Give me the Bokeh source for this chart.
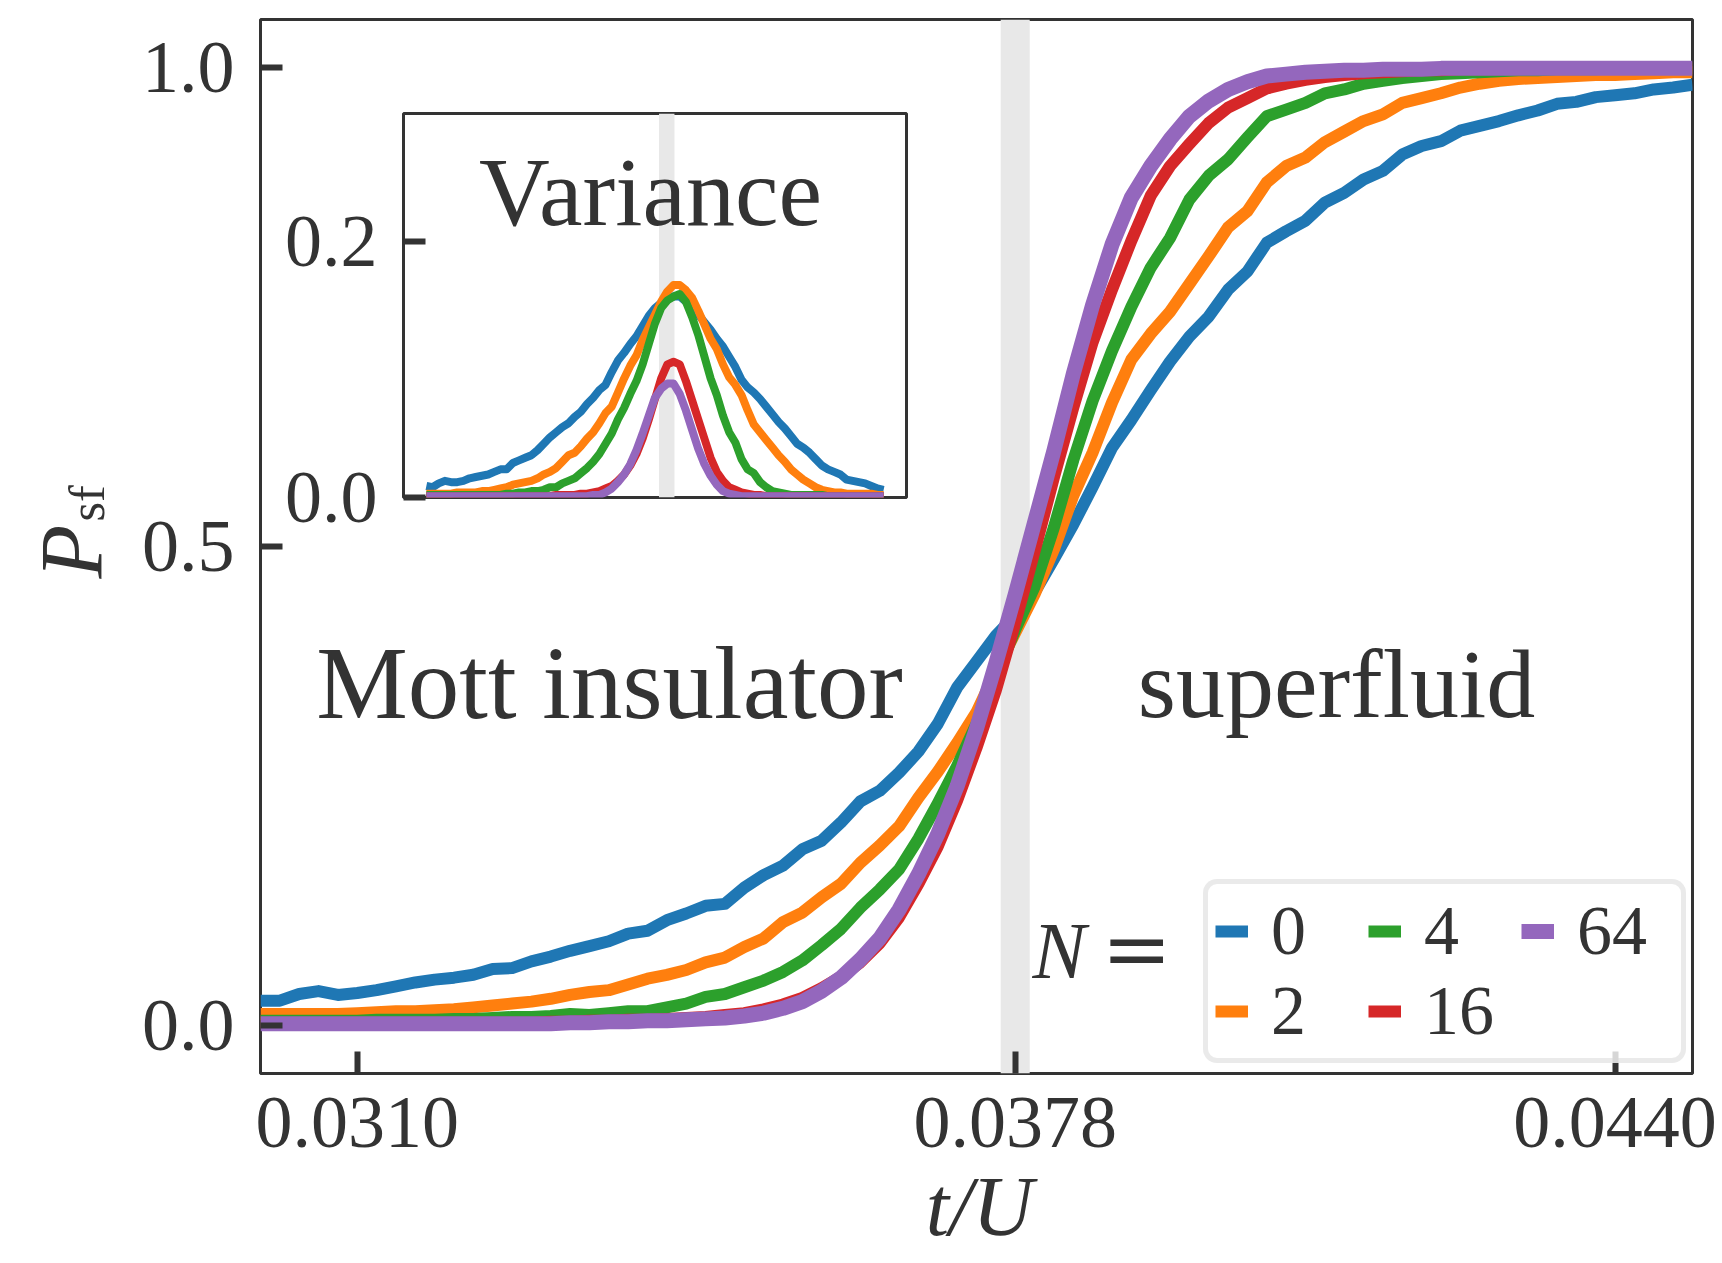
import math
from bokeh.plotting import figure
from bokeh.models import (Range1d, FixedTicker, NumeralTickFormatter, BoxAnnotation,
                          Label, Legend, LegendItem)
from bokeh.layouts import column
from bokeh.embed import file_html
from bokeh.resources import INLINE

# ---------------- data ----------------
T_OVER_U = [
    0.0300, 0.0302, 0.0304, 0.0306, 0.0308, 0.0310, 0.0312, 0.0314, 0.0316, 0.0318,
    0.0320, 0.0322, 0.0324, 0.0326, 0.0328, 0.0330, 0.0332, 0.0334, 0.0336, 0.0338,
    0.0340, 0.0342, 0.0344, 0.0346, 0.0348, 0.0350, 0.0352, 0.0354, 0.0356, 0.0358,
    0.0360, 0.0362, 0.0364, 0.0366, 0.0368, 0.0370, 0.0372, 0.0374, 0.0376, 0.0378,
    0.0380, 0.0382, 0.0384, 0.0386, 0.0388, 0.0390, 0.0392, 0.0394, 0.0396, 0.0398,
    0.0400, 0.0402, 0.0404, 0.0406, 0.0408, 0.0410, 0.0412, 0.0414, 0.0416, 0.0418,
    0.0420, 0.0422, 0.0424, 0.0426, 0.0428, 0.0430, 0.0432, 0.0434, 0.0436, 0.0438,
    0.0440, 0.0442, 0.0444, 0.0446, 0.0448,
]

P_SF_N0 = [
    0.026, 0.026, 0.033, 0.036, 0.032, 0.034, 0.037, 0.041, 0.045, 0.048,
    0.050, 0.053, 0.059, 0.060, 0.067, 0.072, 0.078, 0.083, 0.088, 0.096,
    0.099, 0.110, 0.117, 0.125, 0.127, 0.144, 0.157, 0.167, 0.184, 0.193,
    0.212, 0.234, 0.245, 0.264, 0.286, 0.315, 0.353, 0.380, 0.407, 0.428,
    0.452, 0.487, 0.523, 0.562, 0.603, 0.632, 0.663, 0.693, 0.719, 0.740,
    0.768, 0.787, 0.817, 0.829, 0.840, 0.859, 0.869, 0.883, 0.892, 0.909,
    0.918, 0.923, 0.934, 0.939, 0.944, 0.950, 0.955, 0.962, 0.964, 0.969,
    0.971, 0.973, 0.977, 0.979, 0.982,
]
P_SF_N2 = [
    0.012, 0.012, 0.012, 0.012, 0.012, 0.013, 0.014, 0.015, 0.015, 0.016,
    0.017, 0.019, 0.021, 0.023, 0.025, 0.028, 0.032, 0.035, 0.037, 0.043,
    0.049, 0.053, 0.058, 0.066, 0.071, 0.082, 0.091, 0.108, 0.118, 0.134,
    0.148, 0.170, 0.188, 0.208, 0.238, 0.265, 0.295, 0.327, 0.370, 0.410,
    0.450, 0.497, 0.553, 0.598, 0.650, 0.695, 0.722, 0.745, 0.774, 0.803,
    0.833, 0.850, 0.880, 0.897, 0.906, 0.922, 0.933, 0.944, 0.951, 0.963,
    0.968, 0.973, 0.979, 0.983, 0.986, 0.988, 0.989, 0.990, 0.991, 0.992,
    0.992, 0.993, 0.994, 0.995, 0.995,
]
P_SF_N4 = [
    0.005, 0.005, 0.005, 0.005, 0.005, 0.005, 0.006, 0.006, 0.006, 0.006,
    0.007, 0.007, 0.008, 0.009, 0.009, 0.010, 0.012, 0.011, 0.013, 0.015,
    0.015, 0.019, 0.023, 0.030, 0.033, 0.040, 0.047, 0.056, 0.068, 0.084,
    0.101, 0.123, 0.142, 0.163, 0.195, 0.232, 0.271, 0.315, 0.365, 0.413,
    0.458, 0.520, 0.590, 0.652, 0.704, 0.750, 0.791, 0.822, 0.862, 0.887,
    0.904, 0.927, 0.949, 0.956, 0.963, 0.973, 0.977, 0.983, 0.986, 0.989,
    0.991, 0.993, 0.994, 0.995, 0.996, 0.997, 0.997, 0.998, 0.998, 0.998,
    0.999, 0.999, 0.999, 0.999, 0.999,
]
P_SF_N16 = [
    0.003, 0.003, 0.003, 0.003, 0.003, 0.003, 0.003, 0.003, 0.003, 0.003,
    0.003, 0.003, 0.003, 0.003, 0.003, 0.004, 0.004, 0.005, 0.005, 0.006,
    0.006, 0.007, 0.008, 0.009, 0.011, 0.013, 0.017, 0.022, 0.029, 0.039,
    0.051, 0.066, 0.086, 0.113, 0.148, 0.187, 0.235, 0.290, 0.350, 0.420,
    0.495, 0.572, 0.645, 0.713, 0.768, 0.819, 0.866, 0.897, 0.920, 0.942,
    0.958, 0.968, 0.978, 0.983, 0.987, 0.990, 0.992, 0.994, 0.995, 0.996,
    0.997, 0.997, 0.998, 0.998, 0.998, 0.999, 0.999, 0.999, 0.999, 0.999,
    0.999, 0.999, 0.999, 0.999, 0.999,
]
P_SF_N64 = [
    0.002, 0.002, 0.002, 0.002, 0.002, 0.002, 0.002, 0.002, 0.002, 0.002,
    0.002, 0.002, 0.002, 0.002, 0.002, 0.002, 0.003, 0.003, 0.004, 0.004,
    0.005, 0.005, 0.006, 0.007, 0.008, 0.010, 0.013, 0.018, 0.025, 0.036,
    0.050, 0.069, 0.091, 0.121, 0.158, 0.200, 0.250, 0.310, 0.378, 0.450,
    0.525, 0.600, 0.680, 0.752, 0.815, 0.864, 0.897, 0.925, 0.949, 0.965,
    0.977, 0.985, 0.991, 0.993, 0.995, 0.996, 0.997, 0.997, 0.998, 0.998,
    0.998, 0.999, 0.999, 0.999, 0.999, 0.999, 0.999, 0.999, 0.999, 0.999,
    0.999, 0.999, 0.999, 0.999, 0.999,
]

VAR_N0 = [
    0.009, 0.008, 0.011, 0.013, 0.012, 0.012, 0.013, 0.015, 0.016, 0.017,
    0.018, 0.020, 0.022, 0.022, 0.027, 0.029, 0.031, 0.033, 0.037, 0.042,
    0.047, 0.051, 0.055, 0.058, 0.063, 0.067, 0.073, 0.078, 0.084, 0.088,
    0.098, 0.107, 0.113, 0.120, 0.126, 0.134, 0.142, 0.148, 0.152, 0.155,
    0.157, 0.157, 0.153, 0.148, 0.143, 0.137, 0.131, 0.124, 0.118, 0.110,
    0.102, 0.092, 0.086, 0.082, 0.077, 0.071, 0.065, 0.059, 0.054, 0.048,
    0.042, 0.039, 0.035, 0.030, 0.025, 0.022, 0.020, 0.018, 0.014, 0.013,
    0.012, 0.011, 0.009, 0.007, 0.006,
]
VAR_N2 = [
    0.003, 0.003, 0.003, 0.003, 0.003, 0.004, 0.004, 0.004, 0.004, 0.005,
    0.005, 0.006, 0.007, 0.008, 0.010, 0.011, 0.012, 0.013, 0.015, 0.018,
    0.020, 0.023, 0.028, 0.033, 0.035, 0.040, 0.046, 0.051, 0.058, 0.066,
    0.071, 0.082, 0.093, 0.103, 0.111, 0.123, 0.133, 0.143, 0.153, 0.161,
    0.166, 0.166, 0.162, 0.156, 0.146, 0.135, 0.124, 0.116, 0.104, 0.094,
    0.088, 0.080, 0.068, 0.057, 0.051, 0.045, 0.039, 0.033, 0.028, 0.022,
    0.018, 0.014, 0.011, 0.008, 0.006, 0.005, 0.004, 0.004, 0.003, 0.003,
    0.003, 0.003, 0.003, 0.002, 0.002,
]
VAR_N4 = [
    0.002, 0.002, 0.002, 0.002, 0.002, 0.002, 0.002, 0.002, 0.002, 0.002,
    0.002, 0.002, 0.002, 0.003, 0.003, 0.004, 0.004, 0.005, 0.005, 0.006,
    0.008, 0.008, 0.011, 0.013, 0.015, 0.019, 0.023, 0.028, 0.034, 0.042,
    0.050, 0.061, 0.070, 0.081, 0.091, 0.104, 0.120, 0.136, 0.148, 0.154,
    0.157, 0.159, 0.153, 0.141, 0.127, 0.110, 0.093, 0.080, 0.064, 0.051,
    0.043, 0.030, 0.022, 0.019, 0.012, 0.008, 0.005, 0.004, 0.003, 0.002,
    0.002, 0.002, 0.002, 0.002, 0.002, 0.001, 0.001, 0.001, 0.001, 0.001,
    0.001, 0.001, 0.001, 0.001, 0.001,
]
VAR_N16 = [
    0.001, 0.001, 0.001, 0.001, 0.001, 0.001, 0.001, 0.001, 0.001, 0.001,
    0.001, 0.001, 0.001, 0.001, 0.001, 0.001, 0.001, 0.001, 0.001, 0.001,
    0.001, 0.002, 0.002, 0.002, 0.002, 0.003, 0.003, 0.004, 0.005, 0.007,
    0.009, 0.013, 0.018, 0.025, 0.034, 0.046, 0.061, 0.077, 0.093, 0.104,
    0.106, 0.104, 0.091, 0.076, 0.061, 0.046, 0.031, 0.020, 0.013, 0.008,
    0.006, 0.004, 0.003, 0.002, 0.002, 0.001, 0.001, 0.001, 0.001, 0.001,
    0.001, 0.001, 0.001, 0.001, 0.001, 0.001, 0.001, 0.001, 0.001, 0.001,
    0.001, 0.001, 0.001, 0.001, 0.001,
]
VAR_N64 = [
    0.001, 0.001, 0.001, 0.001, 0.001, 0.001, 0.001, 0.001, 0.001, 0.001,
    0.001, 0.001, 0.001, 0.001, 0.001, 0.001, 0.001, 0.001, 0.001, 0.001,
    0.001, 0.001, 0.001, 0.001, 0.001, 0.001, 0.001, 0.002, 0.002, 0.004,
    0.007, 0.012, 0.018, 0.026, 0.037, 0.050, 0.064, 0.078, 0.085, 0.089,
    0.089, 0.081, 0.068, 0.053, 0.038, 0.026, 0.017, 0.010, 0.005, 0.003,
    0.002, 0.001, 0.001, 0.001, 0.001, 0.001, 0.001, 0.001, 0.001, 0.001,
    0.001, 0.001, 0.001, 0.001, 0.001, 0.001, 0.001, 0.001, 0.001, 0.001,
    0.001, 0.001, 0.001, 0.001, 0.001,
]

N_LABELS = ["0", "2", "4", "16", "64"]
P_SERIES = [P_SF_N0, P_SF_N2, P_SF_N4, P_SF_N16, P_SF_N64]
VAR_SERIES = [VAR_N0, VAR_N2, VAR_N4, VAR_N16, VAR_N64]

X_TICKS = [0.0310, 0.0378, 0.0440]
Y_TICKS = [0.0, 0.5, 1.0]
INSET_Y_TICKS = [0.0, 0.2]
BAND_MAIN = (0.03765, 0.03795)
BAND_INSET = (0.03753, 0.03803)

# ---------------- style ----------------
COLORS = ["#1f77b4", "#ff7f0e", "#2ca02c", "#d62728", "#9467bd"]
MAIN_WIDTHS = [12, 12, 12, 12, 15]
FONT = "Liberation Serif"
TXT = "#333333"
FRAME = "#333333"
MID = 0.3375          # baseline -> text middle, in em

W, H = 1722, 1263
FL, FR, FT, FB = 260, 1692, 19, 1073   # main frame edges (canvas px)
BL, BR = FL, W - FR                    # shared left / right borders

x_lo, x_hi = T_OVER_U[0], T_OVER_U[-1]
p = figure(width=W, height=H, title=None,
           x_range=Range1d(x_lo, x_hi), y_range=Range1d(-0.05, 1.05),
           output_backend="svg", toolbar_location=None,
           min_border_left=BL, min_border_right=BR,
           min_border_top=FT, min_border_bottom=H - FB)
p.grid.visible = False
p.outline_line_color = FRAME
p.outline_line_width = 3
p.background_fill_color = "white"
p.border_fill_color = "white"


def style_axis(ax, standoff):
    ax.axis_line_color = None
    ax.major_tick_in = 22
    ax.major_tick_out = 0
    ax.major_tick_line_width = 6
    ax.major_tick_line_color = FRAME
    ax.minor_tick_line_color = None
    ax.major_label_text_font = FONT
    ax.major_label_text_font_size = "74px"
    ax.major_label_text_color = TXT
    ax.major_label_standoff = standoff


style_axis(p.xaxis[0], 24)
style_axis(p.yaxis[0], 26)
p.xaxis.ticker = FixedTicker(ticks=X_TICKS)
p.xaxis.formatter = NumeralTickFormatter(format="0.0000")
p.yaxis.ticker = FixedTicker(ticks=Y_TICKS)
p.yaxis.formatter = NumeralTickFormatter(format="0.0")

p.add_layout(BoxAnnotation(left=BAND_MAIN[0], right=BAND_MAIN[1],
                           fill_color="#e8e8e8", fill_alpha=1.0,
                           line_color=None, level="underlay"))

renderers = []
for ys, c, lw in zip(P_SERIES, COLORS, MAIN_WIDTHS):
    r = p.line(T_OVER_U, ys, line_color=c, line_width=lw, line_join="round")
    renderers.append(r)

legend = Legend(items=[LegendItem(label=lab, renderers=[r])
                       for lab, r in zip(N_LABELS, renderers)],
                location=(1203 - FL, FB - 1063), orientation="vertical", nrows=2,
                glyph_width=33, glyph_height=30, label_standoff=23,
                label_width=97, spacing=0, padding=7, margin=0,
                border_line_color="#d6d6d6", border_line_width=5,
                background_fill_color="white", background_fill_alpha=0.8,
                label_text_font=FONT, label_text_font_size="70px",
                label_text_color=TXT)
if "border_radius" in Legend.properties():
    legend.border_radius = 14
p.add_layout(legend)


def add_text(fig, bottom, left, x, y_base, text, size, style="normal", font=FONT,
             align="center", angle=0.0):
    """x, y_base: canvas px of the text anchor / baseline; bottom, left: frame edges."""
    if angle == 0.0:
        xs, ys = x, y_base - MID * size
    else:   # rotated 90 deg: baseline is a vertical line at x
        xs, ys = x - MID * size, y_base
    fig.add_layout(Label(x=xs - left, y=bottom - ys, x_units="screen", y_units="screen",
                         text=text, text_font=font, text_font_size=f"{size}px",
                         text_font_style=style, text_color=TXT,
                         text_align=align, text_baseline="middle",
                         angle=angle))


add_text(p, FB, FL, 609, 717, "Mott insulator", 103)
add_text(p, FB, FL, 1336, 717, "superfluid", 98)
add_text(p, FB, FL, 1032, 977, "N", 80, style="italic", align="left")
add_text(p, FB, FL, 1101, 977, "=", 84, font="DejaVu Serif", align="left")

# ---------------- inset ----------------
IL, IR, IT, IB = 403, 906, 113, 497      # inset frame (canvas px)
I_BT, I_BB = 8, 60
span = x_hi - x_lo
ins = figure(width=BL + (IR - IL) + BR, height=I_BT + (IB - IT) + I_BB,
             title=None,
             x_range=Range1d(x_lo - 0.05 * span, x_hi + 0.05 * span),
             y_range=Range1d(0.0, 0.3),
             output_backend="svg", toolbar_location=None,
             min_border_left=BL, min_border_right=BR,
             min_border_top=I_BT, min_border_bottom=I_BB,
             styles={"position": "absolute", "left": f"{IL - BL}px",
                     "top": f"{IT - I_BT}px"})
ins.grid.visible = False
ins.outline_line_color = FRAME
ins.outline_line_width = 3
ins.background_fill_color = "white"
ins.border_fill_color = None
ins.xaxis.visible = False
style_axis(ins.yaxis[0], 26)
ins.yaxis.ticker = FixedTicker(ticks=INSET_Y_TICKS)
ins.yaxis.formatter = NumeralTickFormatter(format="0.0")

ins.add_layout(BoxAnnotation(left=BAND_INSET[0], right=BAND_INSET[1],
                             fill_color="#e8e8e8", fill_alpha=1.0,
                             line_color=None, level="underlay"))
for ys, c in zip(VAR_SERIES, COLORS):
    ins.line(T_OVER_U, ys, line_color=c, line_width=8, line_join="round")

add_text(ins, IB, IL, 650, 225, "Variance", 98)

# ---------------- transparent layer for the axis titles ----------------
OVW = 1250                               # frame covers page x 0..OVW, y 0..H
ov = figure(width=BL + OVW + BR, height=H, title=None,
            x_range=Range1d(0, 1), y_range=Range1d(0, 1),
            x_axis_location=None, y_axis_location=None,
            output_backend="svg", toolbar_location=None,
            min_border_left=BL, min_border_right=BR,
            min_border_top=0, min_border_bottom=0,
            outline_line_color=None, background_fill_color=None,
            border_fill_color=None,
            styles={"position": "absolute", "left": f"{-BL}px", "top": "0px"})
ov.grid.visible = False
add_text(ov, H, 0, 979, 1234, "t/U", 84, style="italic")
add_text(ov, H, 0, 101, 551, "P", 88, style="italic", angle=math.pi / 2)
add_text(ov, H, 0, 103, 503, "sf", 50, angle=math.pi / 2)

layout = column(p, ins, ov)
open("out.html", "w").write(file_html(layout, INLINE))
